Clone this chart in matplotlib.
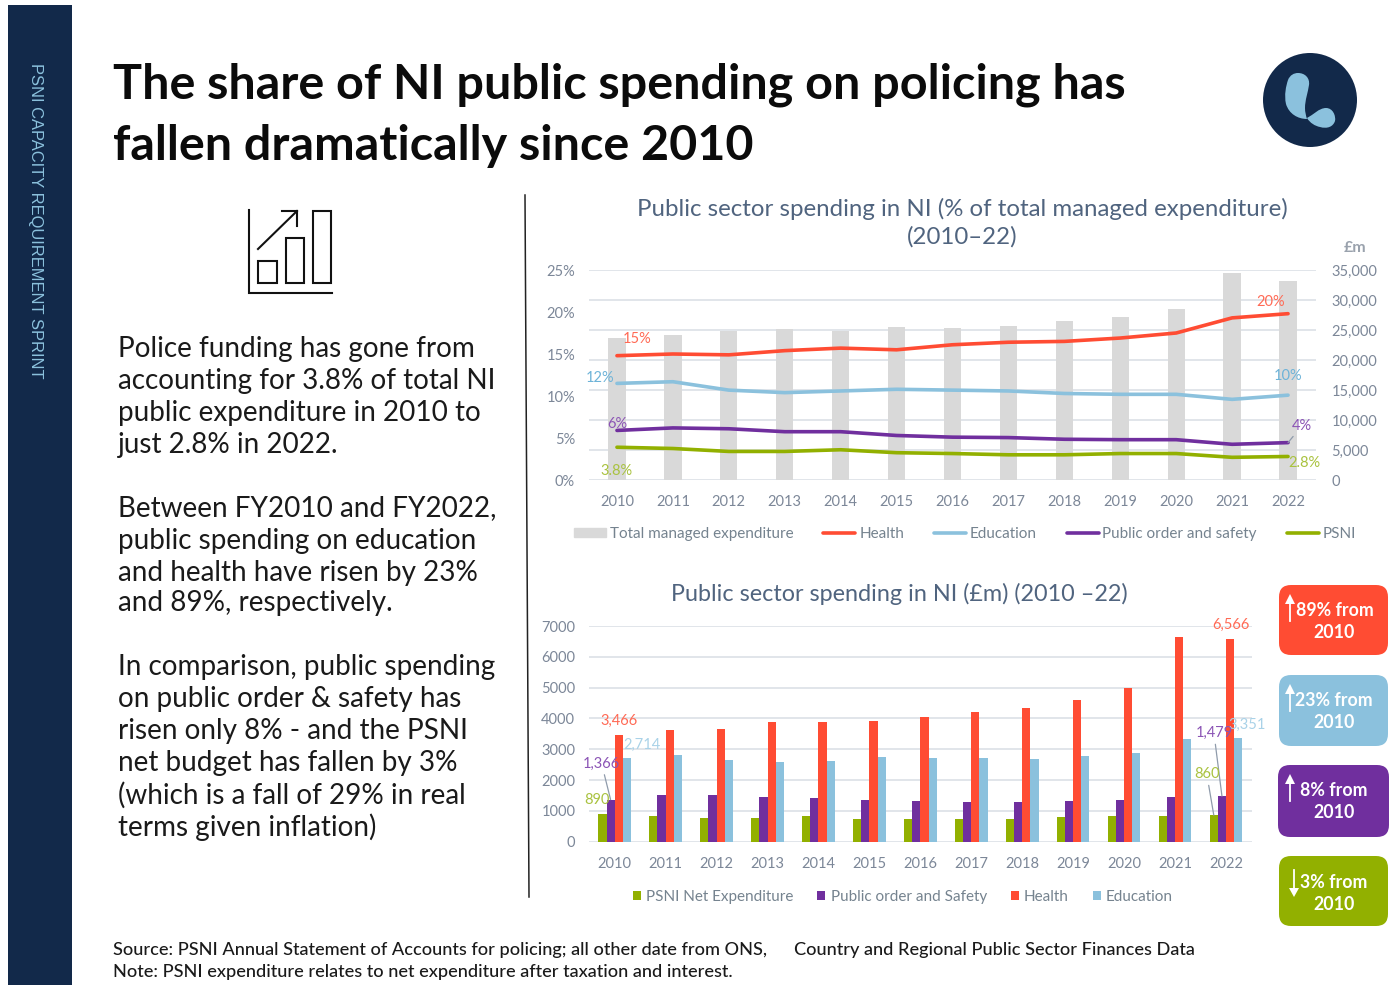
import matplotlib
matplotlib.use('Agg')
import matplotlib.pyplot as plt
import numpy as np
from matplotlib.lines import Line2D
from matplotlib.patches import Circle, FancyBboxPatch, PathPatch, Polygon, Rectangle
from matplotlib.path import Path

plt.rcParams['font.family'] = ['Lato', 'DejaVu Sans']

years = [str(y) for y in range(2010, 2023)]

# % of total managed expenditure
health_pct = [14.8, 15.0, 14.9, 15.4, 15.7, 15.5, 16.1, 16.4, 16.5, 16.9, 17.5, 19.3, 19.8]
education_pct = [11.5, 11.7, 10.7, 10.4, 10.6, 10.8, 10.7, 10.6, 10.3, 10.2, 10.2, 9.6, 10.1]
order_pct = [5.9, 6.2, 6.1, 5.75, 5.75, 5.3, 5.1, 5.05, 4.85, 4.8, 4.8, 4.25, 4.45]
psni_pct = [3.9, 3.75, 3.4, 3.4, 3.6, 3.25, 3.15, 3.0, 3.0, 3.15, 3.15, 2.7, 2.8]
total_managed = [23670, 24170, 24780, 25110, 24780, 25440, 25280, 25610, 26440, 27220, 28440, 34500, 33220]

# GBP m
psni_net = [890, 822, 757, 757, 822, 725, 725, 725, 725, 790, 822, 822, 860]
order_spend = [1366, 1504, 1504, 1439, 1406, 1342, 1309, 1277, 1277, 1309, 1342, 1439, 1479]
health_spend = [3466, 3624, 3657, 3884, 3884, 3917, 4046, 4209, 4338, 4598, 4988, 6632, 6566]
education_spend = [2714, 2813, 2651, 2597, 2629, 2759, 2716, 2716, 2683, 2791, 2878, 3332, 3351]

NAVY = '#12294A'
RED = '#FF4C33'
BLUE = '#8BC1DD'
PURPLE = '#702F9E'
GREEN = '#92B000'
GREY_BAR = '#D9D9D9'
GRID = '#E1E5EA'
TICK = '#7C8798'
TITLE = '#50647F'

W, H = 1399, 985
fig = plt.figure(figsize=(W / 100, H / 100), dpi=100, facecolor='white')


def px_axes(left, top, right, bottom):
    return fig.add_axes([left / W, 1 - bottom / H, (right - left) / W, (bottom - top) / H])


# overlay in pixel coordinates for the page furniture
page = fig.add_axes([0, 0, 1, 1])
page.set_xlim(0, W)
page.set_ylim(H, 0)
page.axis('off')

page.add_patch(Rectangle((8, 5), 64, 980, color=NAVY, lw=0))
page.text(35.5, 220.5, 'PSNI CAPACITY REQUIREMENT SPRINT', rotation=270, color='#8BC1DD',
          ha='center', va='center', fontsize=11.85, family='Liberation Sans')

page.text(113, 85, 'The share of NI public spending on policing has', fontsize=34.9,
          fontweight='bold', color='#0B0B0B', va='center')
page.text(113, 146, 'fallen dramatically since 2010', fontsize=34.9,
          fontweight='bold', color='#0B0B0B', va='center')

# logo
page.add_patch(Circle((1310, 100), 47, color=NAVY, lw=0))
stem = Path([(1298, 73), (1305, 73), (1310, 78), (1309, 85), (1308, 92), (1305, 100), (1305, 108),
             (1305, 112), (1306, 116), (1307, 119), (1298, 119), (1289, 114), (1286, 104),
             (1284, 95), (1286, 86), (1288, 80), (1290, 75), (1294, 73), (1298, 73)],
            [Path.MOVETO] + [Path.CURVE4] * 18)
page.add_patch(PathPatch(stem, fc=BLUE, lw=0))
foot = Path([(1307, 118), (1313, 115), (1319, 108), (1326, 108), (1333, 108), (1336, 116), (1335, 121),
             (1333, 127), (1327, 129), (1320, 127), (1315, 126), (1310, 123), (1307, 118)],
            [Path.MOVETO] + [Path.CURVE4] * 12)
page.add_patch(PathPatch(foot, fc=BLUE, lw=0))

# small chart icon
page.plot([249, 249, 332], [210, 293, 293], color='#111111', lw=1.5, solid_joinstyle='miter')
for x0, x1, y0 in [(258, 277, 261), (286, 304, 238), (313, 331, 211)]:
    page.add_patch(Rectangle((x0, y0), x1 - x0, 283 - y0, fc='none', ec='#111111', lw=1.5))
page.plot([258, 297], [249, 211], color='#111111', lw=1.5)
page.plot([282, 297, 297], [211, 211, 226], color='#111111', lw=1.5, solid_joinstyle='miter')

# commentary on the left
body = [
    (348, 'Police funding has gone from'),
    (380, 'accounting for 3.8% of total NI'),
    (412, 'public expenditure in 2010 to'),
    (443, 'just 2.8% in 2022.'),
    (507, 'Between FY2010 and FY2022,'),
    (539, 'public spending on education'),
    (571, 'and health have risen by 23%'),
    (602, 'and 89%, respectively.'),
    (666, 'In comparison, public spending'),
    (698, 'on public order & safety has'),
    (730, 'risen only 8% - and the PSNI'),
    (762, 'net budget has fallen by 3%'),
    (794, '(which is a fall of 29% in real'),
    (826, 'terms given inflation)'),
]
for y, line in body:
    page.text(118, y + 1.5, line, fontsize=20.1, color='#1A1A1A', va='center')

page.plot([525, 529], [195, 897], color='#222222', lw=1.1)

page.text(962, 209, 'Public sector spending in NI (% of total managed expenditure)',
          fontsize=17.3, color=TITLE, ha='center', va='center')
page.text(962, 237, '(2010\u201322)', fontsize=17.3, color=TITLE, ha='center', va='center')
page.text(899, 594, 'Public sector spending in NI (\u00a3m) (2010 \u201322)',
          fontsize=16.8, color=TITLE, ha='center', va='center')
page.text(1355, 248, '\u00a3m', fontsize=11.5, color='#9AA2AD', fontweight='bold', ha='center', va='center')

page.text(113, 950, 'Source: PSNI Annual Statement of Accounts for policing; all other date from ONS,',
          fontsize=13.1, color='#1A1A1A', va='center', fontweight='medium')
page.text(794, 950, 'Country and Regional Public Sector Finances Data',
          fontsize=13.1, color='#1A1A1A', va='center', fontweight='medium')
page.text(113, 972, 'Note: PSNI expenditure relates to net expenditure after taxation and interest.',
          fontsize=13.1, color='#1A1A1A', va='center', fontweight='medium')

# change call-outs on the right
callouts = [
    (1279, 585, 1388, 655, RED, '89% from', 1334, 1290, 'up'),
    (1279, 675, 1388, 746, BLUE, '23% from', 1333, 1290, 'up'),
    (1278, 765, 1389, 837, PURPLE, '8% from', 1333, 1290, 'up'),
    (1279, 856, 1388, 926, GREEN, '3% from', 1333, 1294, 'down'),
]
for x0, y0, x1, y1, colour, label, xt, xa, way in callouts:
    page.add_patch(FancyBboxPatch((x0 + 12, y0 + 12), x1 - x0 - 24, y1 - y0 - 24,
                                  boxstyle='round,pad=12,rounding_size=12', fc=colour, lw=0))
    page.text(xt + 1, y0 + 26, label, color='white', fontsize=12.8, fontweight='bold', ha='center', va='center')
    page.text(1334, y0 + 48, '2010', color='white', fontsize=12.8, fontweight='bold', ha='center', va='center')
    if way == 'up':
        ya, yb, tip, base = y0 + 36, y0 + 16, y0 + 9, y0 + 19
    else:
        ya, yb, tip, base = y0 + 14, y0 + 35, y0 + 41, y0 + 32
    page.plot([xa, xa], [ya, yb], color='white', lw=1.3)
    page.add_patch(Polygon([(xa - 5, base), (xa + 5, base), (xa, tip)], fc='white', lw=0))

# top chart: lines on % axis, bars on GBP axis
ax_pct = px_axes(589, 270, 1316, 480)
ax_tot = ax_pct.twinx()
x = np.arange(len(years))
ax_tot.bar(x, total_managed, width=0.31, color=GREY_BAR, zorder=2)
ax_tot.set_ylim(0, 35000)
ax_tot.set_yticks(np.arange(0, 35001, 5000))
ax_tot.set_yticklabels(['0', '5,000', '10,000', '15,000', '20,000', '25,000', '30,000', '35,000'])
ax_tot.grid(axis='y', color=GRID, lw=1.4, zorder=1)
ax_tot.set_axisbelow(True)
ax_tot.tick_params(axis='y', length=0, pad=11, labelsize=10.5, labelcolor=TICK)

ax_pct.set_zorder(ax_tot.get_zorder() + 1)
ax_pct.patch.set_visible(False)
pct_series = [
    (health_pct, RED, 'Health'),
    (education_pct, BLUE, 'Education'),
    (order_pct, PURPLE, 'Public order and safety'),
    (psni_pct, GREEN, 'PSNI'),
]
for values, colour, name in pct_series:
    ax_pct.plot(x, values, color=colour, lw=2.6, solid_capstyle='round', label=name)
ax_pct.set_xlim(-0.5, 12.5)
ax_pct.set_ylim(0, 25)
ax_pct.set_yticks(np.arange(0, 26, 5))
ax_pct.set_yticklabels([f'{v}%' for v in range(0, 26, 5)])
ax_pct.set_xticks(x)
ax_pct.set_xticklabels(years)
ax_pct.tick_params(axis='both', length=0, labelsize=10.5, labelcolor=TICK)
ax_pct.tick_params(axis='x', pad=11)
ax_pct.tick_params(axis='y', pad=10)
for a in (ax_pct, ax_tot):
    for s in a.spines.values():
        s.set_visible(False)


def note(ax, text, xv, yv, dx, dy, colour, leader=False):
    kw = {}
    if leader:
        kw['arrowprops'] = dict(arrowstyle='-', color='#8F9BAB', lw=0.9, shrinkA=1, shrinkB=0)
    ax.annotate(text, (xv, yv), xytext=(dx, dy), textcoords='offset pixels', color=colour,
                fontsize=10.5, ha='center', va='center', zorder=6, **kw)


note(ax_pct, '15%', 0, health_pct[0], 20, 17, '#FF6A55')
note(ax_pct, '12%', 0, education_pct[0], -17, 5, '#6DB3D8')
note(ax_pct, '6%', 0, order_pct[0], 0, 6, '#8B54B5')
note(ax_pct, '3.8%', 0, psni_pct[0], 0, -24, '#A9C23F')
note(ax_pct, '20%', 12, health_pct[12], -17, 12, '#FF6A55')
note(ax_pct, '10%', 12, education_pct[12], 0, 19, '#6DB3D8')
note(ax_pct, '4%', 12, order_pct[12], 14, 17, '#8B54B5', leader=True)
note(ax_pct, '2.8%', 12, psni_pct[12], 16, -7, '#A9C23F')

top_handles = [Rectangle((0, 0), 1, 1, color=GREY_BAR)] + \
    [Line2D([], [], color=c, lw=2.6, solid_capstyle='round') for _, c, _ in pct_series]
top_names = ['Total managed expenditure', 'Health', 'Education', 'Public order and safety', 'PSNI']
fig.legend(top_handles, top_names, loc='center', bbox_to_anchor=(965 / W, 1 - 534 / H), ncol=5,
           frameon=False, fontsize=11, labelcolor='#75838F', handlelength=2.1, handleheight=0.55,
           handletextpad=0.25, columnspacing=1.95, borderpad=0)

# bottom chart: grouped bars
ax_bars = px_axes(589.2, 626, 1251.5, 841.7)
bar_w = 0.16
groups = [
    (psni_net, GREEN, 'PSNI Net Expenditure'),
    (order_spend, PURPLE, 'Public order and Safety'),
    (health_spend, RED, 'Health'),
    (education_spend, BLUE, 'Education'),
]
for i, (values, colour, name) in enumerate(groups):
    ax_bars.bar(x + (i - 1.5) * bar_w, values, width=bar_w, color=colour, label=name, zorder=3)
ax_bars.set_xlim(-0.5, 12.5)
ax_bars.set_ylim(0, 7000)
ax_bars.set_yticks(np.arange(0, 7001, 1000))
ax_bars.set_xticks(x)
ax_bars.set_xticklabels(years)
ax_bars.grid(axis='y', color=GRID, lw=1.4, zorder=1)
ax_bars.set_axisbelow(True)
ax_bars.patch.set_visible(False)
ax_bars.tick_params(axis='both', length=0, labelsize=10.5, labelcolor=TICK)
ax_bars.tick_params(axis='x', pad=11)
ax_bars.tick_params(axis='y', pad=10)
for s in ax_bars.spines.values():
    s.set_visible(False)

note(ax_bars, f'{health_spend[0]:,}', 0.08, health_spend[0], 0, 14, '#FF6A55')
note(ax_bars, f'{education_spend[0]:,}', 0.24, education_spend[0], 15, 13, '#A9D2E8')
note(ax_bars, f'{order_spend[0]:,}', -0.08, order_spend[0], -9, 36, '#8B54B5', leader=True)
note(ax_bars, f'{psni_net[0]:,}', -0.24, psni_net[0], -6, 14, '#A9C23F')
note(ax_bars, f'{health_spend[12]:,}', 12.08, health_spend[12], 1, 14, '#FF6A55')
note(ax_bars, f'{education_spend[12]:,}', 12.24, education_spend[12], 9, 14, '#A9D2E8')
note(ax_bars, f'{order_spend[12]:,}', 11.92, order_spend[12], -8, 63, '#8B54B5', leader=True)
note(ax_bars, f'{psni_net[12]:,}', 11.76, psni_net[12], -7, 41, '#A9C23F', leader=True)

handles, names = ax_bars.get_legend_handles_labels()
fig.legend(handles, names, loc='center', bbox_to_anchor=(903 / W, 1 - 897 / H), ncol=4,
           frameon=False, fontsize=11, labelcolor='#75838F', handlelength=0.52, handleheight=0.6,
           handletextpad=0.35, columnspacing=1.55, borderpad=0)

fig.savefig('out.png', dpi=100)
